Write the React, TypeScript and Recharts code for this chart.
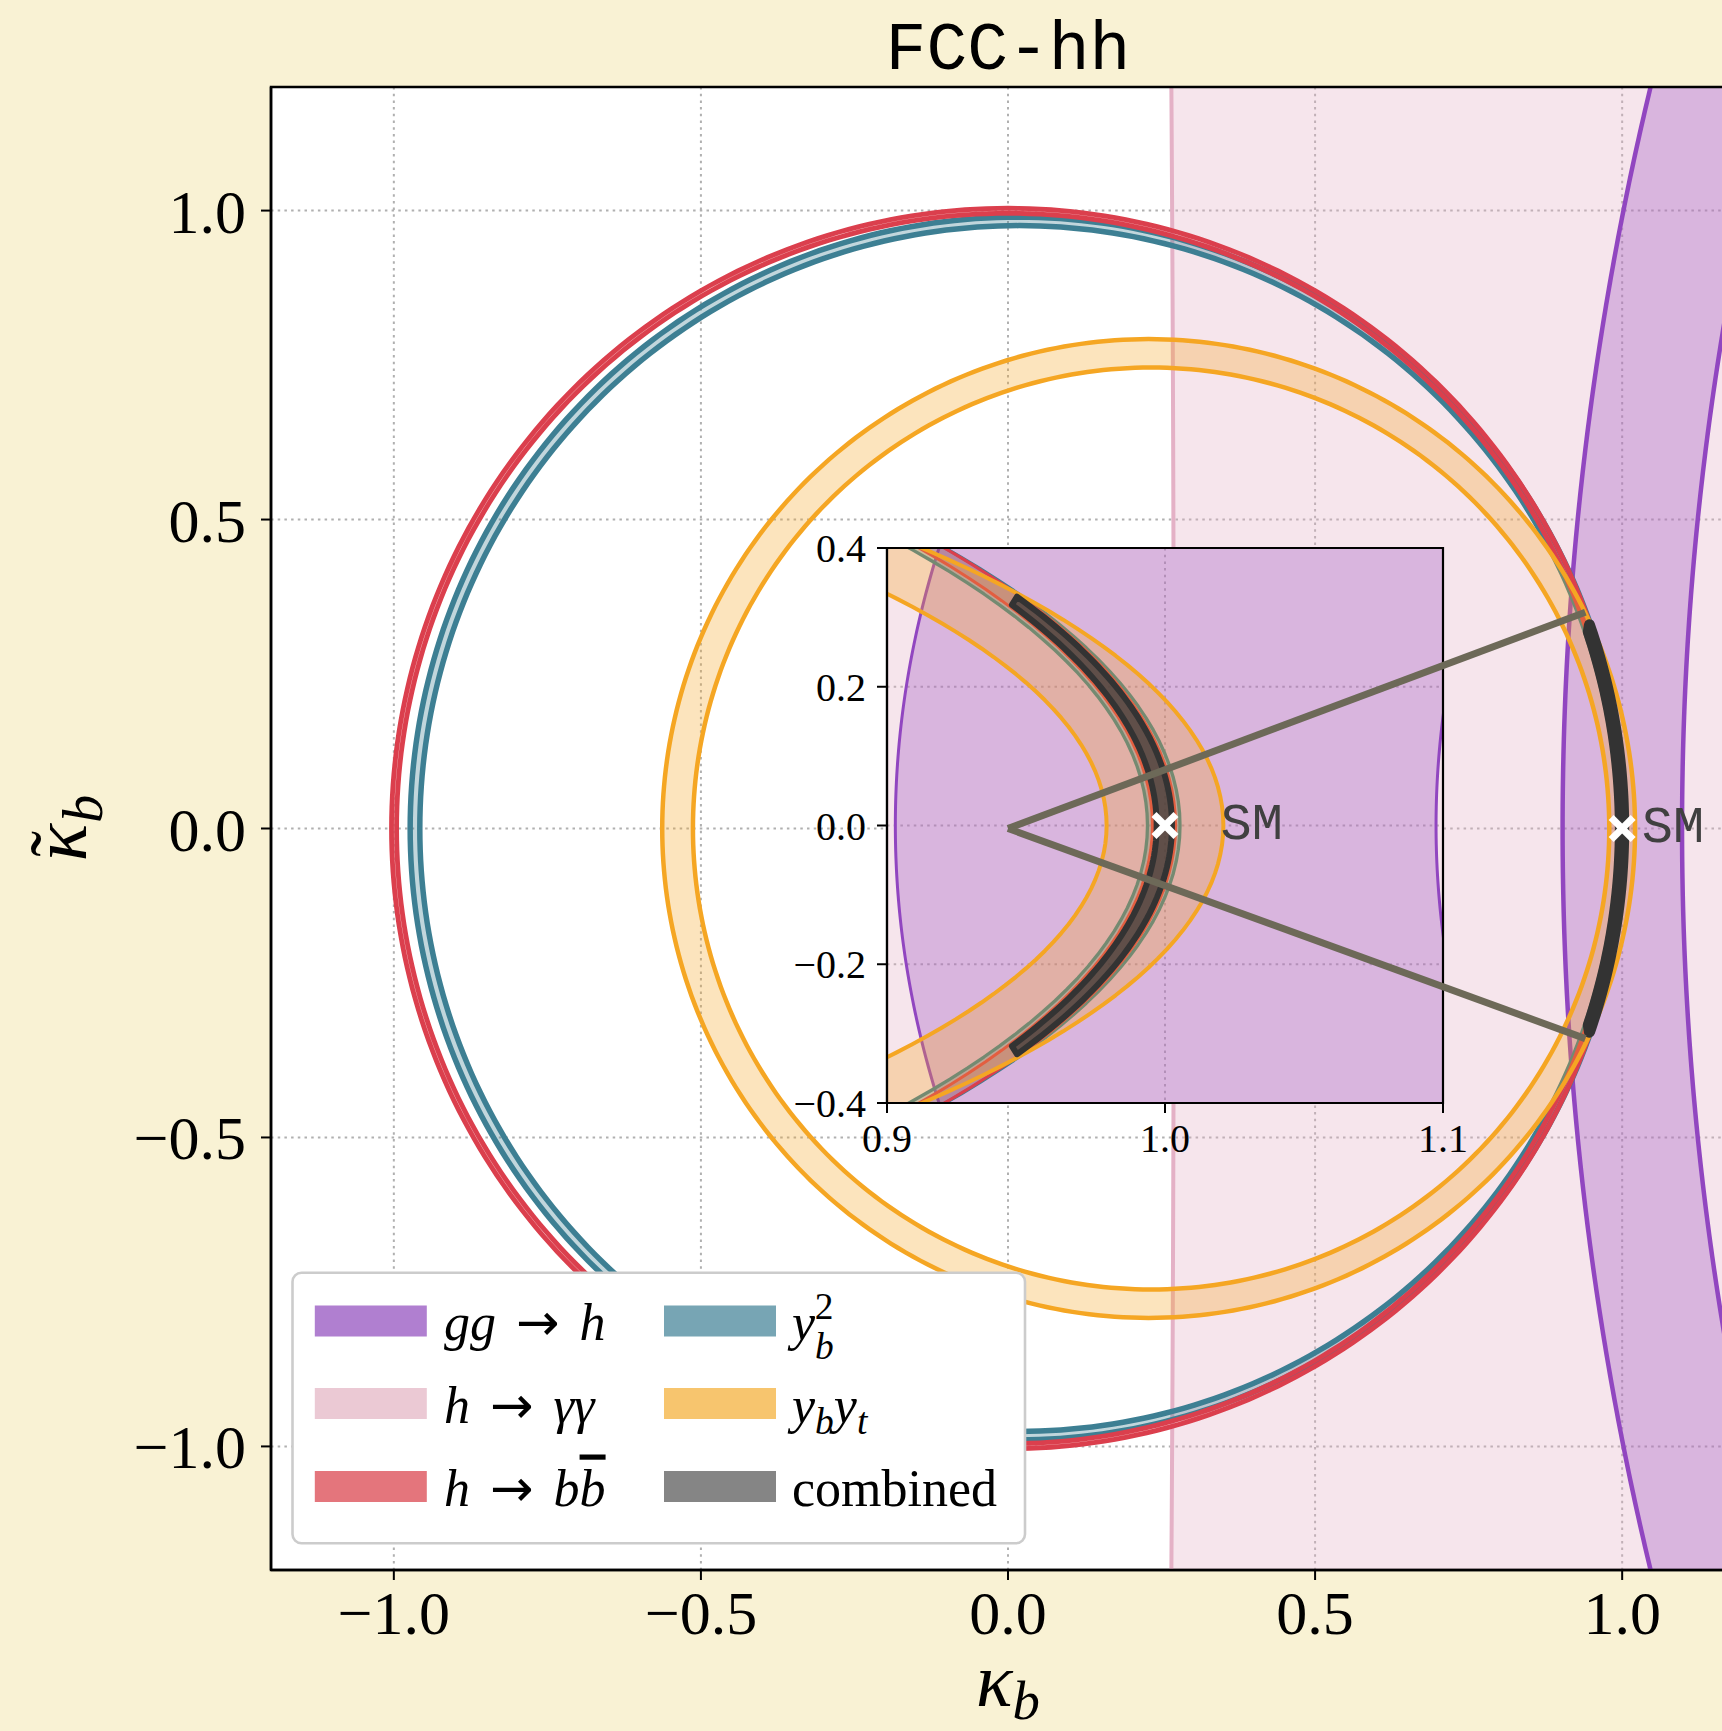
import React from 'react';
import { ScatterChart, Scatter, XAxis, YAxis, CartesianGrid } from 'recharts';

type Pt = { x: number; y: number };

// ---------------------------------------------------------------------------
// Constraint bands in the (κ_b, κ̃_b) plane, listed in drawing order.
// Every band lies between two circles centred on the κ_b axis at (centre, 0).
// ---------------------------------------------------------------------------
const bandNames = ['h → γγ', 'gg → h', 'y_b²', 'h → bb̄', 'y_b y_t'];
const bandInnerCentre = [-179.73, 6.0, 0.018, 0.0, 0.233];
const bandInnerRadius = [180.0, 4.9025, 0.9757, 0.9955, 0.746];
const bandOuterCentre = [-179.73, 6.0, 0.016, 0.0, 0.229];
const bandOuterRadius = [181.5, 5.097, 0.9894, 1.0038, 0.792];

// Combined fit: thin annular sector around the SM point (radii inner/outer, half-angles in degrees)
const combinedRadius = [0.9970, 1.0025];
const combinedHalfAngle = [18.6, 19.2];

// SM point and its labels
const smPoint: Pt[] = [{ x: 1, y: 0 }];
const smLabelMain = [{ x: 1.032, y: 0, label: 'SM' }];
const smLabelInset = [{ x: 1.02, y: 0, label: 'SM' }];

// Lines joining the inset to the zoomed region
const connectorStart: Pt = { x: 0, y: 0 };
const connectorEnds: Pt[] = [
  { x: 0.94, y: 0.35 },
  { x: 0.94, y: -0.34 },
];

// Axes
const mainDomain: [number, number] = [-1.2, 1.2];
const mainXTicks = [-1, -0.5, 0, 0.5, 1];
const mainYTicks = [-1, -0.5, 0, 0.5, 1];
const insetXDomain: [number, number] = [0.9, 1.1];
const insetYDomain: [number, number] = [-0.4, 0.4];
const insetXTicks = [0.9, 1.0, 1.1];
const insetYTicks = [-0.4, -0.2, 0, 0.2, 0.4];

// Legend (column-major, two columns)
type Seg = { t: string; it?: boolean; shift?: number; small?: boolean; dx?: number; over?: boolean; arrow?: boolean };
const legendLabels: Seg[][] = [
  [{ t: 'gg', it: true }, { t: '→', arrow: true, dx: 20 }, { t: 'h', it: true, dx: 20 }],
  [{ t: 'h', it: true }, { t: '→', arrow: true, dx: 20 }, { t: 'γγ', it: true, dx: 20 }],
  [{ t: 'h', it: true }, { t: '→', arrow: true, dx: 20 }, { t: 'b', it: true, dx: 20 }, { t: 'b', it: true, over: true }],
  [{ t: 'y', it: true }, { t: 'b', it: true, small: true, shift: 0.36 }, { t: '2', small: true, shift: -0.4, dx: -19 }],
  [{ t: 'y', it: true }, { t: 'b', it: true, small: true, shift: 0.22 }, { t: 'y', it: true }, { t: 't', it: true, small: true, shift: 0.22 }],
  [{ t: 'combined' }],
];

// ---------------------------------------------------------------------------
// Styles
// ---------------------------------------------------------------------------
const BG = '#f9f2d4';
const SERIF = "'Liberation Serif', 'Times New Roman', serif";
const ARROW_FONT = "'DejaVu Sans', sans-serif";
const MONO = "'Liberation Mono', 'DejaVu Sans Mono', monospace";
const bandLineColour = ['#e4b1c6', '#9146c0', '#3d7f93', '#db3f4d', '#f5a623'];
const bandFillColour = [
  'rgba(227,176,198,0.33)',
  'rgba(150,70,190,0.30)',
  'rgba(61,127,147,0.32)',
  'rgba(219,63,77,0.28)',
  'rgba(245,166,35,0.30)',
];
const legendPatchColour = ['#b07fd0', '#ebc9d4', '#e4757c', '#77a5b4', '#f7c56e', '#858585'];
const mainLineWidth = [4, 4.5, 5.5, 4.8, 4.5];
const insetLineWidth = [3, 3, 3.3, 3, 4];
const combinedStroke = '#333333';
const combinedFill = 'rgba(51,51,51,0.7)';
const connectorColour = '#6d6958';
const gridProps = { stroke: '#b0b0b0', strokeDasharray: '2.5 4.2', strokeWidth: 2 };

// ---------------------------------------------------------------------------
// Geometry helpers: sample a boundary circle over the visible κ̃_b range
// ---------------------------------------------------------------------------
const SAMPLE_Y = 1.35;

function circleBoundary(cx: number, r: number): { pts: Pt[]; closed: boolean } {
  if (r <= SAMPLE_Y) {
    const n = 360;
    const pts = Array.from({ length: n }, (_, k) => {
      const a = (2 * Math.PI * k) / n;
      return { x: cx + r * Math.cos(a), y: r * Math.sin(a) };
    });
    return { pts, closed: true };
  }
  // large circle: only the arc facing the plotted window
  const side = Math.abs(cx - r) < Math.abs(cx + r) ? -1 : 1;
  const n = 300;
  const pts = Array.from({ length: n + 1 }, (_, k) => {
    const y = -SAMPLE_Y + (2 * SAMPLE_Y * k) / n;
    return { x: cx + side * Math.sqrt(r * r - y * y), y };
  });
  return { pts, closed: false };
}

const bands = bandNames.map((name, i) => {
  const outer = circleBoundary(bandOuterCentre[i], bandOuterRadius[i]);
  const inner = circleBoundary(bandInnerCentre[i], bandInnerRadius[i]);
  return { name, data: [...outer.pts, ...inner.pts], split: outer.pts.length, closed: outer.closed };
});

const combinedData: Pt[] = (() => {
  const n = 90;
  const [rIn, rOut] = combinedRadius;
  const [aIn, aOut] = combinedHalfAngle.map((d) => (d * Math.PI) / 180);
  const outer = Array.from({ length: n + 1 }, (_, k) => {
    const a = -aOut + (2 * aOut * k) / n;
    return { x: rOut * Math.cos(a), y: rOut * Math.sin(a) };
  });
  const inner = Array.from({ length: n + 1 }, (_, k) => {
    const a = aIn - (2 * aIn * k) / n;
    return { x: rIn * Math.cos(a), y: rIn * Math.sin(a) };
  });
  return [...outer, ...inner];
})();

const frameData = (xd: [number, number], yd: [number, number]): Pt[] => [
  { x: xd[0], y: yd[0] },
  { x: xd[1], y: yd[0] },
  { x: xd[1], y: yd[1] },
  { x: xd[0], y: yd[1] },
  { x: xd[0], y: yd[0] },
];

const toPath = (q: Pt[], move = true) =>
  q.map((p, i) => `${i === 0 && move ? 'M' : 'L'}${p.x.toFixed(2)},${p.y.toFixed(2)}`).join('');

const renderBand = (split: number, closed: boolean, fill: string, stroke: string, width: number) => (props: any) => {
  const pts: Pt[] = props.points || [];
  const a = pts.slice(0, split);
  const b = pts.slice(split);
  const fillD = closed
    ? `${toPath(a)}Z${toPath(b)}Z`
    : `${toPath(a)}${toPath([...b].reverse(), false)}Z`;
  const lineD = closed ? `${toPath(a)}Z${toPath(b)}Z` : `${toPath(a)}${toPath(b)}`;
  return (
    <g>
      <path d={fillD} fill={fill} fillRule="evenodd" stroke="none" />
      <path d={lineD} fill="none" stroke={stroke} strokeWidth={width} strokeLinejoin="round" />
    </g>
  );
};

const renderCombined = (width: number) => (props: any) => {
  const pts: Pt[] = props.points || [];
  return (
    <path
      d={`${toPath(pts)}Z`}
      fill={combinedFill}
      stroke={combinedStroke}
      strokeWidth={width}
      strokeLinejoin="round"
    />
  );
};

const renderFrame = (width: number) => (props: any) => {
  const pts: Pt[] = props.points || [];
  return <path d={`${toPath(pts)}Z`} fill="none" stroke="#000" strokeWidth={width} strokeLinejoin="miter" />;
};

const noMarker = () => <g />;

const smCross = (props: any) => {
  const { cx, cy } = props;
  const h = 11;
  return (
    <g stroke="#ffffff" strokeWidth={7} strokeLinecap="butt">
      <line x1={cx - h} y1={cy - h} x2={cx + h} y2={cy + h} />
      <line x1={cx - h} y1={cy + h} x2={cx + h} y2={cy - h} />
    </g>
  );
};

const smText = (props: any) => (
  <text
    x={props.cx}
    y={props.cy}
    dominantBaseline="central"
    fontFamily={MONO}
    fontSize={52}
    fill="#404040"
  >
    {props.payload?.label}
  </text>
);

const fmt = (v: number) => v.toFixed(1).replace('-', '\u2212');

function seriesLayers(widths: number[], combinedWidth: number, labelData: typeof smLabelMain, key: string) {
  const items = bands.map((b, i) => (
    <Scatter
      key={`${key}-band-${i}`}
      name={b.name}
      data={b.data}
      shape={noMarker}
      line={renderBand(b.split, b.closed, bandFillColour[i], bandLineColour[i], widths[i])}
      legendType="none"
      isAnimationActive={false}
    />
  ));
  items.push(
    <Scatter
      key={`${key}-combined`}
      name="combined"
      data={combinedData}
      shape={noMarker}
      line={renderCombined(combinedWidth)}
      legendType="none"
      isAnimationActive={false}
    />
  );
  items.push(
    <Scatter key={`${key}-sm`} name="SM" data={smPoint} shape={smCross} legendType="none" isAnimationActive={false} />
  );
  items.push(
    <Scatter key={`${key}-smlabel`} name="SM label" data={labelData} shape={smText} legendType="none" isAnimationActive={false} />
  );
  return items;
}

function MathText({ x, y, size, segs, anchor, transform }: { x: number; y: number; size: number; segs: Seg[]; anchor?: string; transform?: string }) {
  let offset = 0;
  return (
    <text x={x} y={y} fontFamily={SERIF} fontSize={size} fill="#000" textAnchor={anchor as any} transform={transform}>
      {segs.map((s, i) => {
        const target = (s.shift || 0) * size;
        const dy = target - offset;
        offset = target;
        return (
          <tspan
            key={i}
            dy={dy !== 0 ? dy : undefined}
            dx={s.dx}
            fontFamily={s.arrow ? ARROW_FONT : undefined}
            fontStyle={s.it ? 'italic' : 'normal'}
            fontSize={s.small ? size * 0.72 : size}
            textDecoration={s.over ? 'overline' : undefined}
          >
            {s.t}
          </tspan>
        );
      })}
    </text>
  );
}

// Main plot area: left 271, top 87, width 1474, height 1483
const MAIN_W = 1760;
const MAIN_H = 1731;
const MAIN_MARGIN = { top: 87, right: 15, bottom: 0, left: 0 };
const MAIN_YAXIS_W = 271;
const MAIN_XAXIS_H = 161;

// Inset plot area: left 886.5, top 548, width 556, height 555
const INSET_YAXIS_W = 120;
const INSET_XAXIS_H = 70;
const INSET_MARGIN = { top: 30, right: 40, bottom: 0, left: 0 };
const INSET_LEFT = 886.5 - INSET_YAXIS_W;
const INSET_TOP = 548 - INSET_MARGIN.top;

export default function App() {
  const legendX = 292.5;
  const legendY = 1272.7;
  const legendW = 732.5;
  const legendH = 270.5;
  const colPatchX = [314.8, 664];
  const colTextX = [444, 792];
  const rowCentre = [1321, 1403.5, 1486.5];

  return (
    <div
      style={{
        position: 'absolute',
        left: 0,
        top: 0,
        width: 1722,
        height: 1731,
        overflow: 'hidden',
        background: BG,
      }}
    >
      {/* main axes */}
      <div style={{ position: 'absolute', left: 0, top: 0 }}>
        <ScatterChart width={MAIN_W} height={MAIN_H} margin={MAIN_MARGIN}>
          <CartesianGrid {...gridProps} fill="#ffffff" fillOpacity={1} />
          {seriesLayers(mainLineWidth, 11, smLabelMain, 'main')}
          <XAxis
            type="number"
            dataKey="x"
            domain={mainDomain}
            allowDataOverflow
            ticks={mainXTicks}
            interval={0}
            tickFormatter={fmt}
            height={MAIN_XAXIS_H}
            tickSize={10}
            tickMargin={10}
            tick={{ fontSize: 62, fontFamily: SERIF, fill: '#000' }}
            axisLine={{ stroke: '#000', strokeWidth: 2.5 }}
            tickLine={{ stroke: '#000', strokeWidth: 2 }}
          />
          <YAxis
            type="number"
            dataKey="y"
            domain={mainDomain}
            allowDataOverflow
            ticks={mainYTicks}
            interval={0}
            tickFormatter={fmt}
            width={MAIN_YAXIS_W}
            tickSize={10}
            tickMargin={15}
            tick={{ fontSize: 62, fontFamily: SERIF, fill: '#000' }}
            axisLine={{ stroke: '#000', strokeWidth: 2.5 }}
            tickLine={{ stroke: '#000', strokeWidth: 2 }}
          />
          {/* unclipped axes used only for the plot frame */}
          <XAxis xAxisId="frame" type="number" dataKey="x" domain={mainDomain} hide />
          <YAxis yAxisId="frame" type="number" dataKey="y" domain={mainDomain} hide />
          <Scatter
            xAxisId="frame"
            yAxisId="frame"
            data={frameData(mainDomain, mainDomain)}
            shape={noMarker}
            line={renderFrame(2.5)}
            legendType="none"
            isAnimationActive={false}
          />
        </ScatterChart>
      </div>

      {/* zoomed inset around the SM point */}
      <div style={{ position: 'absolute', left: INSET_LEFT, top: INSET_TOP }}>
        <ScatterChart
          width={INSET_YAXIS_W + 556 + INSET_MARGIN.right}
          height={INSET_MARGIN.top + 555 + INSET_XAXIS_H}
          margin={INSET_MARGIN}
        >
          <CartesianGrid {...gridProps} fill="#ffffff" fillOpacity={1} />
          {seriesLayers(insetLineWidth, 6, smLabelInset, 'inset')}
          <XAxis
            type="number"
            dataKey="x"
            domain={insetXDomain}
            allowDataOverflow
            ticks={insetXTicks}
            interval={0}
            tickFormatter={fmt}
            height={INSET_XAXIS_H}
            tickSize={10}
            tickMargin={11}
            tick={{ fontSize: 40, fontFamily: SERIF, fill: '#000' }}
            axisLine={{ stroke: '#000', strokeWidth: 2.2 }}
            tickLine={{ stroke: '#000', strokeWidth: 2 }}
          />
          <YAxis
            type="number"
            dataKey="y"
            domain={insetYDomain}
            allowDataOverflow
            ticks={insetYTicks}
            interval={0}
            tickFormatter={fmt}
            width={INSET_YAXIS_W}
            tickSize={10}
            tickMargin={11}
            tick={{ fontSize: 40, fontFamily: SERIF, fill: '#000' }}
            axisLine={{ stroke: '#000', strokeWidth: 2.2 }}
            tickLine={{ stroke: '#000', strokeWidth: 2 }}
          />
          <XAxis xAxisId="frame" type="number" dataKey="x" domain={insetXDomain} hide />
          <YAxis yAxisId="frame" type="number" dataKey="y" domain={insetYDomain} hide />
          <Scatter
            xAxisId="frame"
            yAxisId="frame"
            data={frameData(insetXDomain, insetYDomain)}
            shape={noMarker}
            line={renderFrame(2.2)}
            legendType="none"
            isAnimationActive={false}
          />
        </ScatterChart>
      </div>

      {/* connector lines drawn on the main axes, above the inset */}
      <div style={{ position: 'absolute', left: 0, top: 0, pointerEvents: 'none' }}>
        <ScatterChart
          width={MAIN_W}
          height={MAIN_H}
          margin={{ top: 87, right: 15, bottom: MAIN_XAXIS_H, left: MAIN_YAXIS_W }}
        >
          <XAxis type="number" dataKey="x" domain={mainDomain} allowDataOverflow hide />
          <YAxis type="number" dataKey="y" domain={mainDomain} allowDataOverflow hide />
          {connectorEnds.map((end, i) => (
            <Scatter
              key={`connector-${i}`}
              data={[connectorStart, end]}
              shape={noMarker}
              line={{ stroke: connectorColour, strokeWidth: 7 }}
              legendType="none"
              isAnimationActive={false}
            />
          ))}
        </ScatterChart>
      </div>

      {/* title, axis titles and legend */}
      <svg
        width={1722}
        height={1731}
        style={{ position: 'absolute', left: 0, top: 0, pointerEvents: 'none' }}
      >
        <text x={1008} y={69} textAnchor="middle" fontFamily={MONO} fontSize={68} fill="#000">
          FCC-hh
        </text>
        <MathText
          x={1008}
          y={1706}
          size={76}
          anchor="middle"
          segs={[{ t: 'κ', it: true }, { t: 'b', it: true, small: true, shift: 0.17 }]}
        />
        <MathText
          x={86}
          y={828}
          size={78}
          anchor="middle"
          transform="rotate(-90 86 828)"
          segs={[
            { t: 'κ', it: true },
            { t: '\u02dc', dx: -33, shift: -0.02 },
            { t: 'b', it: true, small: true, shift: 0.2, dx: 8 },
          ]}
        />

        <rect
          x={legendX}
          y={legendY}
          width={legendW}
          height={legendH}
          rx={9}
          fill="#ffffff"
          stroke="#cccccc"
          strokeWidth={2.6}
        />
        {legendLabels.map((segs, i) => {
          const col = Math.floor(i / 3);
          const row = i % 3;
          return (
            <g key={`legend-${i}`}>
              <rect x={colPatchX[col]} y={rowCentre[row] - 15.5} width={112} height={31} fill={legendPatchColour[i]} />
              <MathText x={colTextX[col]} y={rowCentre[row] + 19} size={52} segs={segs} />
            </g>
          );
        })}
      </svg>
    </div>
  );
}
